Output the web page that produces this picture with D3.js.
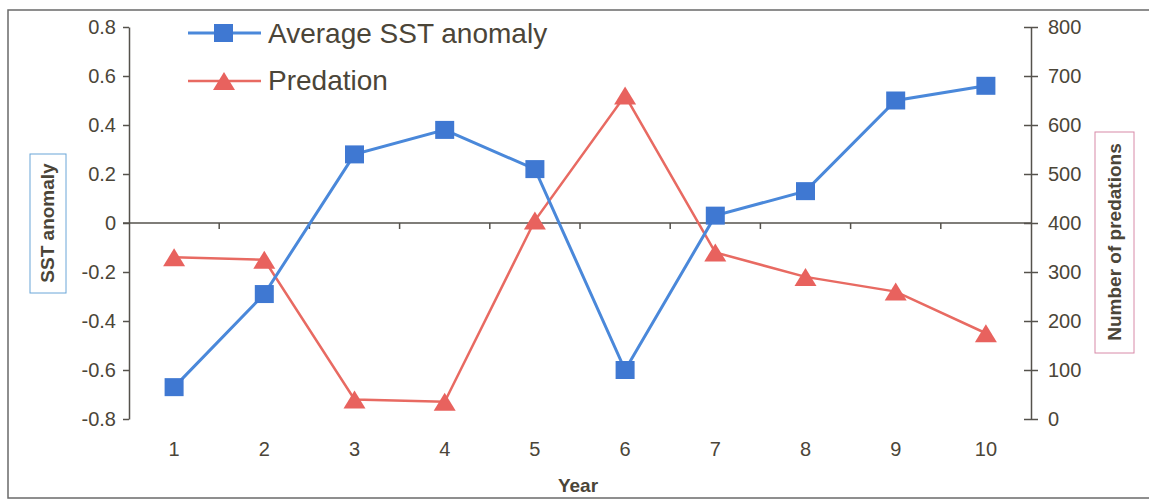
<!DOCTYPE html>
<html>
<head>
<meta charset="utf-8">
<script src="https://cdn.jsdelivr.net/npm/d3@7"></script>
<style>
  body { margin: 0; background: #fff; }
  text { font-family: "Liberation Sans", Arial, sans-serif; fill: #4b4538; }
</style>
</head>
<body>
<div id="chart"></div>
<script>
// values
var years = [1, 2, 3, 4, 5, 6, 7, 8, 9, 10];
var sstAnomaly = [-0.67, -0.29, 0.28, 0.38, 0.22, -0.6, 0.03, 0.13, 0.5, 0.56];
var predations = [330, 325, 40, 35, 405, 660, 340, 290, 260, 175];
var leftTicks = [-0.8, -0.6, -0.4, -0.2, 0, 0.2, 0.4, 0.6, 0.8];
var rightTicks = [0, 100, 200, 300, 400, 500, 600, 700, 800];

var width = 1149, height = 502;
var blue = "#3f78d2", blueLine = "#4a88da";
var red = "#e8625e", redLine = "#e86a62";
var ink = "#45403a", axisCol = "#55524c";

var svg = d3.select("#chart").append("svg")
    .attr("width", width)
    .attr("height", height);

// scanned page frame
svg.append("rect")
    .attr("x", 8).attr("y", 10)
    .attr("width", 1160).attr("height", 488)
    .attr("fill", "none")
    .attr("stroke", "#6a6a6a")
    .attr("stroke-width", 1.5);

var x = d3.scaleBand().domain(years).range([129, 1031]).padding(0);
var yL = d3.scaleLinear().domain([-0.8, 0.8]).range([419, 27]);
var yR = d3.scaleLinear().domain([0, 800]).range([419, 27]);

function fmt(d) {
    return d === 0 ? "0" : d.toFixed(1);
}

// left axis
var gL = svg.append("g")
    .attr("transform", "translate(129,0)")
    .call(d3.axisLeft(yL).tickValues(leftTicks).tickFormat(fmt).tickSize(6).tickSizeOuter(0).tickPadding(7));

// right axis, ticks cross the line
var gR = svg.append("g")
    .attr("transform", "translate(1031,0)")
    .call(d3.axisRight(yR).tickValues(rightTicks).tickSize(7).tickSizeOuter(0).tickPadding(10));
gR.selectAll(".tick line").attr("x1", -7);

[gL, gR].forEach(function (g) {
    g.select(".domain").attr("stroke", axisCol).attr("stroke-width", 1.5);
    g.selectAll(".tick line").attr("stroke", axisCol).attr("stroke-width", 1.5);
    g.selectAll(".tick text")
        .attr("font-size", 20)
        .attr("font-family", "Liberation Sans, Arial, sans-serif")
        .attr("fill", ink);
});

// category axis on the zero line
var y0 = yL(0);
var gX = svg.append("g");
gX.append("line")
    .attr("x1", 123).attr("x2", 1031)
    .attr("y1", y0).attr("y2", y0)
    .attr("stroke", axisCol).attr("stroke-width", 1.5);
gX.selectAll(".xtick")
    .data(years.slice(1))
    .enter().append("line")
    .attr("x1", function (d) { return x(d); })
    .attr("x2", function (d) { return x(d); })
    .attr("y1", y0).attr("y2", y0 + 6)
    .attr("stroke", axisCol).attr("stroke-width", 1.5);
gX.selectAll(".xlabel")
    .data(years)
    .enter().append("text")
    .attr("x", function (d) { return x(d) + x.bandwidth() / 2; })
    .attr("y", 456)
    .attr("text-anchor", "middle")
    .attr("font-size", 20)
    .text(function (d) { return d; });

// axis titles
svg.append("text")
    .attr("x", 578).attr("y", 492)
    .attr("text-anchor", "middle")
    .attr("font-size", 19)
    .attr("font-weight", "bold")
    .text("Year");

svg.append("rect")
    .attr("x", 30).attr("y", 154).attr("width", 36).attr("height", 139)
    .attr("fill", "none").attr("stroke", "#6aa6d8").attr("stroke-width", 1);
svg.append("text")
    .attr("transform", "translate(54,223) rotate(-90)")
    .attr("text-anchor", "middle")
    .attr("font-size", 19)
    .attr("font-weight", "bold")
    .text("SST anomaly");

svg.append("rect")
    .attr("x", 1095).attr("y", 132).attr("width", 39).attr("height", 221)
    .attr("fill", "none").attr("stroke", "#d88aa8").attr("stroke-width", 1);
svg.append("text")
    .attr("transform", "translate(1121,242) rotate(-90)")
    .attr("text-anchor", "middle")
    .attr("font-size", 19)
    .attr("font-weight", "bold")
    .text("Number of predations");

var cx = function (d, i) { return x(years[i]) + x.bandwidth() / 2; };
var triPath = "M0,-9L11,9L-11,9Z";

// predation series
svg.append("path")
    .datum(predations)
    .attr("fill", "none")
    .attr("stroke", redLine)
    .attr("stroke-width", 2.5)
    .attr("d", d3.line().x(cx).y(function (d) { return yR(d); }));

svg.selectAll(".tri")
    .data(predations)
    .enter().append("path")
    .attr("class", "tri")
    .attr("d", triPath)
    .attr("fill", red)
    .attr("transform", function (d, i) {
        return "translate(" + cx(d, i) + "," + yR(d) + ")";
    });

// SST series
svg.append("path")
    .datum(sstAnomaly)
    .attr("fill", "none")
    .attr("stroke", blueLine)
    .attr("stroke-width", 3)
    .attr("d", d3.line().x(cx).y(function (d) { return yL(d); }));

svg.selectAll(".sq")
    .data(sstAnomaly)
    .enter().append("rect")
    .attr("class", "sq")
    .attr("x", function (d, i) { return cx(d, i) - 9.5; })
    .attr("y", function (d) { return yL(d) - 9; })
    .attr("width", 19).attr("height", 18)
    .attr("fill", blue);

// legend
var legend = svg.append("g");
legend.append("line")
    .attr("x1", 188).attr("x2", 261).attr("y1", 33).attr("y2", 33)
    .attr("stroke", blueLine).attr("stroke-width", 3);
legend.append("rect")
    .attr("x", 214).attr("y", 24).attr("width", 19).attr("height", 18)
    .attr("fill", blue);
legend.append("text")
    .attr("x", 268).attr("y", 43)
    .attr("font-size", 28)
    .text("Average SST anomaly");

legend.append("line")
    .attr("x1", 188).attr("x2", 261).attr("y1", 81).attr("y2", 81)
    .attr("stroke", redLine).attr("stroke-width", 2.5);
legend.append("path")
    .attr("d", triPath)
    .attr("fill", red)
    .attr("transform", "translate(224,81)");
legend.append("text")
    .attr("x", 268).attr("y", 90)
    .attr("font-size", 28)
    .text("Predation");
</script>
</body>
</html>
